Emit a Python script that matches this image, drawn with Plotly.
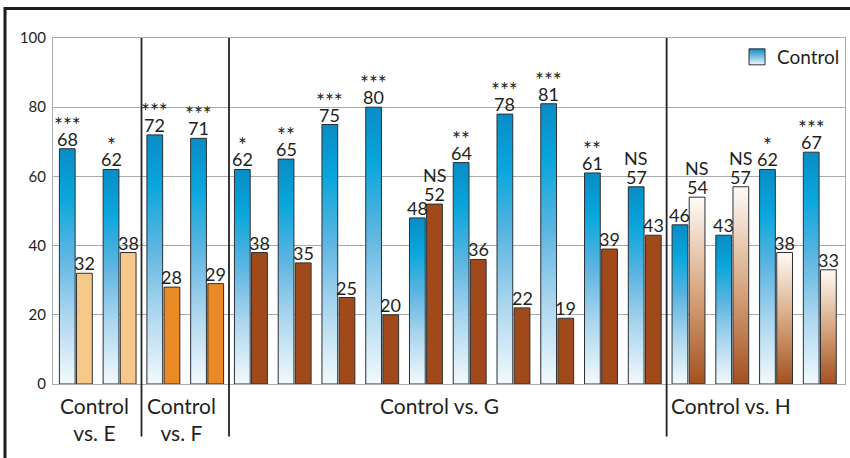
import plotly.graph_objects as go

# ---------------- data ----------------
group_names = ["Control<br>vs. E", "Control<br>vs. F", "Control vs. G", "Control vs. H"]
group_sizes = [2, 2, 10, 4]
control = [68, 62, 72, 71, 62, 65, 75, 80, 48, 64, 78, 81, 61, 57, 46, 43, 62, 67]
comparison = [32, 38, 28, 29, 38, 35, 25, 20, 52, 36, 22, 19, 39, 43, 54, 57, 38, 33]
significance = ["***", "*", "***", "***", "*", "**", "***", "***", "NS", "**",
                "***", "***", "**", "NS", "NS", "NS", "*", "***"]
y_ticks = [0, 20, 40, 60, 80, 100]

# ---------------- style ----------------
FONT = "Lato"
TXT = "#231f20"
OUTLINE = "#2b2f33"
GRID = "#a7adad"
control_scale = [[0, "#f3f9fd"], [0.3, "#a9d5ee"], [0.55, "#5cb5e1"],
                 [0.8, "#08a6dc"], [1, "#0a8cc6"]]
group_fill = ["#f6c98a", "#e98a26", "#a04a1b", None]
h_scale = [[0, "#a4501f"], [0.5, "#d8a882"], [1, "#fffbf7"]]
group_label_x = [0.42, 2.41, 8.32, 14.97]
OFF = 0.196
HALF = 0.18

fig = go.Figure()

group_of = []
for g, n in enumerate(group_sizes):
    group_of += [g] * n


def bar_trace(xc, v, fillcolor=None, scale=None):
    xs = [xc - HALF, xc - HALF, xc + HALF, xc + HALF, xc - HALF]
    ys = [0, v, v, 0, 0]
    kw = dict(x=xs, y=ys, mode="lines", fill="toself",
              line=dict(color=OUTLINE, width=1), showlegend=False,
              hoverinfo="skip")
    if scale is not None:
        kw["fillgradient"] = dict(type="vertical", colorscale=scale)
        kw["fillcolor"] = scale[-1][1]
    else:
        kw["fillcolor"] = fillcolor
    return go.Scatter(**kw)


annotations = []
for i, (c, o, s) in enumerate(zip(control, comparison, significance)):
    g = group_of[i]
    fig.add_trace(bar_trace(i - OFF, c, scale=control_scale))
    if group_fill[g] is None:
        fig.add_trace(bar_trace(i + OFF, o, scale=h_scale))
    else:
        fig.add_trace(bar_trace(i + OFF, o, fillcolor=group_fill[g]))
    for xv, v in ((i - OFF, c), (i + OFF, o)):
        annotations.append(dict(x=xv, y=v, xref="x", yref="y", text=str(v),
                                showarrow=False, yanchor="bottom", yshift=-3,
                                font=dict(family=FONT, size=18, color=TXT)))
    top_x, top_v = (i - OFF, c) if c >= o else (i + OFF, o)
    if s == "NS":
        annotations.append(dict(x=top_x, y=top_v, xref="x", yref="y", text=s,
                                showarrow=False, yanchor="bottom", yshift=16,
                                font=dict(family=FONT, size=18, color=TXT)))
    else:
        annotations.append(dict(x=top_x, y=top_v, xref="x", yref="y", text=s,
                                showarrow=False, yanchor="bottom", yshift=10,
                                font=dict(family=FONT, size=21, color=TXT)))

# legend entry
fig.add_trace(go.Scatter(x=[None], y=[None], mode="markers", name="Control",
                         marker=dict(symbol="square", size=17, color="#0a8cc6",
                                     gradient=dict(type="vertical", color="#f3f9fd"),
                                     line=dict(color=OUTLINE, width=1)),
                         showlegend=True))

# group labels and separators
shapes = []
start = 0
for g, n in enumerate(group_sizes):
    annotations.append(dict(x=group_label_x[g], y=-0.02, xref="x", yref="paper",
                            text=group_names[g], showarrow=False, yanchor="top",
                            font=dict(family=FONT, size=21, color=TXT)))
    start += n
    if start < len(control):
        shapes.append(dict(type="line", xref="x", yref="paper",
                           x0=start - 0.5, x1=start - 0.5, y0=-0.152, y1=1,
                           line=dict(color="#222222", width=1.8)))

# outer frame
shapes.append(dict(type="rect", xref="paper", yref="paper",
                   x0=-0.0606, x1=1.03, y0=-0.3, y1=1.0853,
                   line=dict(color="#1d1d1d", width=3), layer="above"))

fig.update_layout(
    width=850, height=458,
    margin=dict(l=53, r=5, t=38, b=74),
    paper_bgcolor="white", plot_bgcolor="white",
    font=dict(family=FONT, color=TXT),
    showlegend=True,
    legend=dict(x=1, xanchor="right", y=1, yanchor="top",
                font=dict(family=FONT, size=19, color=TXT),
                bgcolor="rgba(0,0,0,0)", itemsizing="trace"),
    annotations=annotations,
    shapes=shapes,
    xaxis=dict(range=[-0.522, 17.576], showticklabels=False, showgrid=False,
               zeroline=False, showline=True, linecolor=GRID, linewidth=1.3,
               mirror=True, fixedrange=True),
    yaxis=dict(range=[0, 100], tickvals=y_ticks, showgrid=True, gridcolor=GRID,
               gridwidth=1.3, zeroline=False, showline=True, linecolor=GRID,
               linewidth=1.3, mirror=True, ticks="", ticklabelstandoff=3,
               tickfont=dict(family=FONT, size=15, color=TXT), fixedrange=True),
)

fig.write_html("out.html",
               config={"displayModeBar": False},
               post_script="document.body.style.margin='0';"
                           "document.body.style.overflow='hidden';")
